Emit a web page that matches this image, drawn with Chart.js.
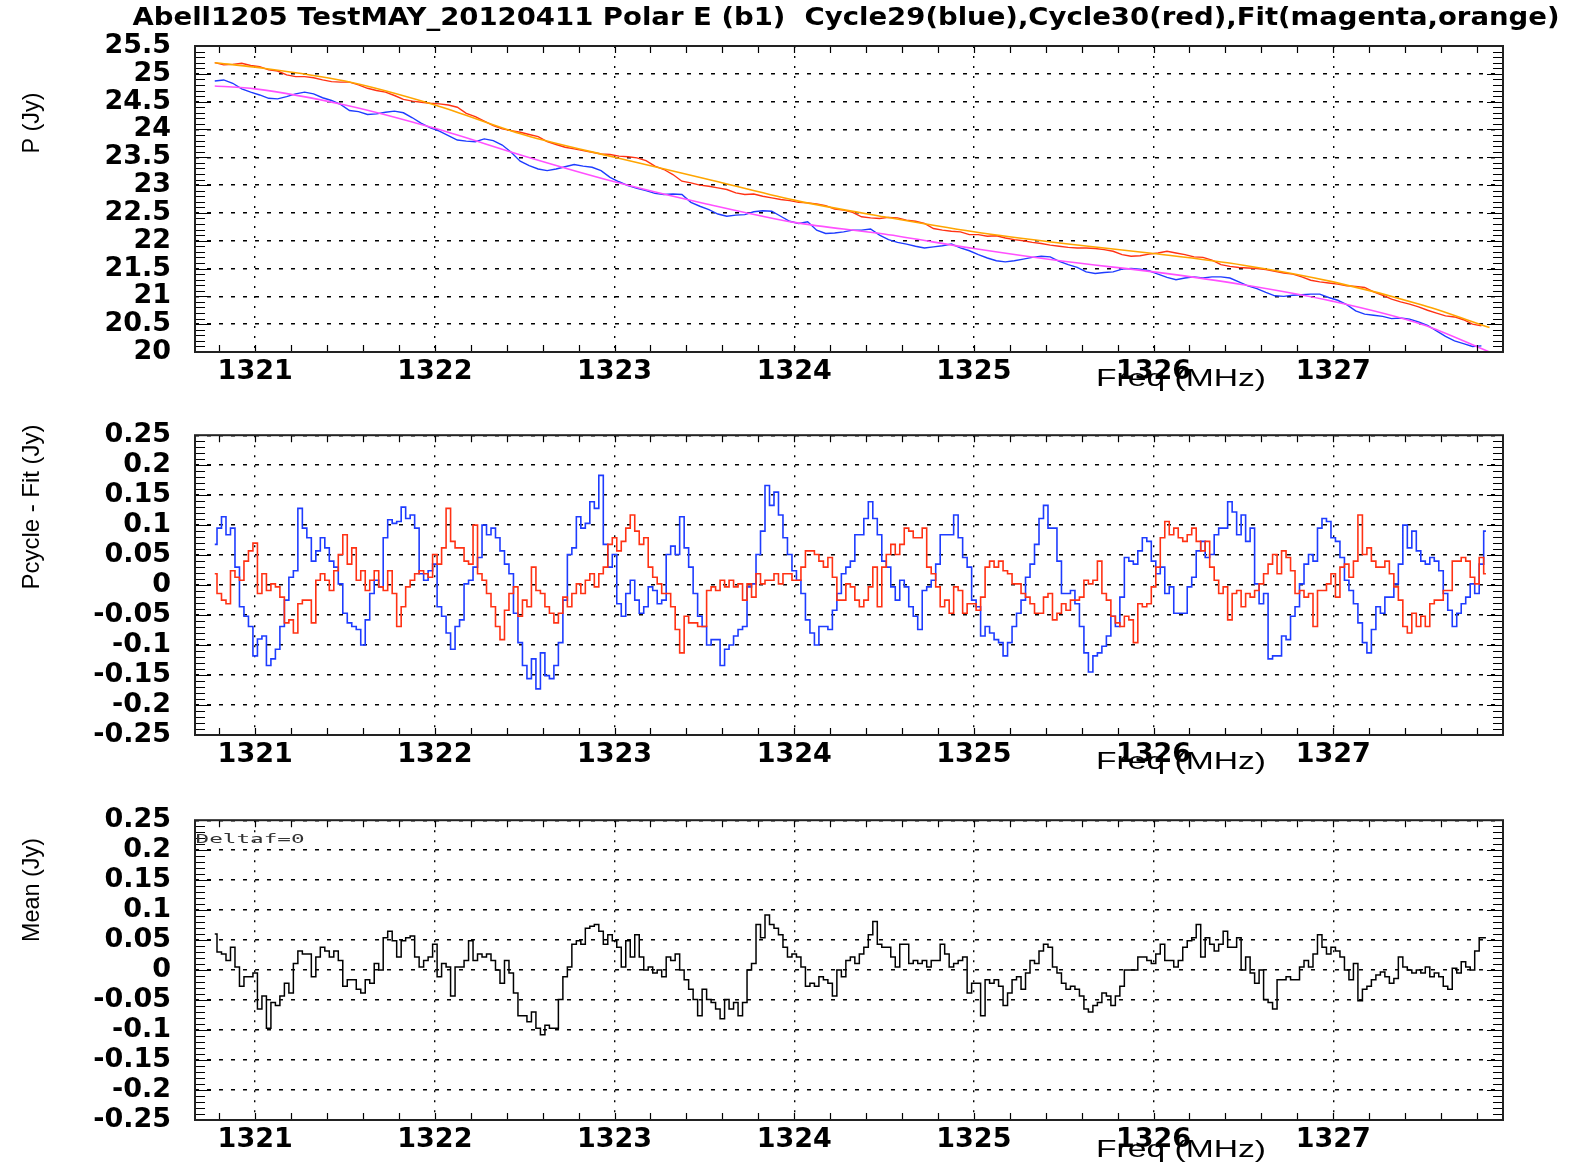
<!DOCTYPE html>
<html>
<head>
<meta charset="utf-8">
<title>Abell1205 TestMAY_20120411 Polar E (b1)</title>
<script src="https://cdn.jsdelivr.net/npm/chart.js@4.4.1/dist/chart.umd.min.js"></script>
<style>
  html, body { margin: 0; padding: 0; background: #fff; }
  #wrap { position: relative; width: 1570px; height: 1163px; background: #fff; overflow: hidden; }
  #wrap canvas { position: absolute; left: 0; }
</style>
</head>
<body>
<div id="wrap">
  <canvas id="cP" width="1570" height="395" style="top:0px"></canvas>
  <canvas id="cR" width="1570" height="385" style="top:395px"></canvas>
  <canvas id="cM" width="1570" height="383" style="top:780px"></canvas>
</div>
<script>
// ---- channel grids (MHz) ----
const chanStart = 1320.775;   // first channel of the residual spectra
const chanWidth = 0.025;      // residual channel spacing
const specStart = 1320.775;   // first channel of the polarised-flux spectra
const specWidth = 0.05;       // spectrum channel spacing

// ---- tick values ----
const freqTicks = [1321, 1322, 1323, 1324, 1325, 1326, 1327];
const pTicks = [20, 20.5, 21, 21.5, 22, 22.5, 23, 23.5, 24, 24.5, 25, 25.5];
const residTicks = [-0.25, -0.2, -0.15, -0.1, -0.05, 0, 0.05, 0.1, 0.15, 0.2, 0.25];

// ---- P (Jy): Cycle29 and Cycle30 spectra ----
const pCycle29 = [
  24.87, 24.89, 24.83, 24.73, 24.67, 24.62, 24.56, 24.55, 24.59, 24.64,
  24.67, 24.64, 24.57, 24.52, 24.45, 24.34, 24.32, 24.27, 24.28, 24.31,
  24.33, 24.30, 24.21, 24.11, 24.03, 23.97, 23.89, 23.81, 23.79, 23.78,
  23.83, 23.80, 23.72, 23.59, 23.43, 23.35, 23.29, 23.26, 23.29, 23.33,
  23.37, 23.34, 23.32, 23.26, 23.14, 23.06, 22.99, 22.94, 22.90, 22.85,
  22.83, 22.84, 22.83, 22.69, 22.62, 22.56, 22.48, 22.44, 22.46, 22.47,
  22.52, 22.54, 22.53, 22.44, 22.35, 22.31, 22.34, 22.19, 22.13, 22.14,
  22.16, 22.19, 22.19, 22.21, 22.10, 22.02, 21.97, 21.94, 21.90, 21.87,
  21.89, 21.91, 21.94, 21.87, 21.82, 21.75, 21.69, 21.64, 21.62, 21.64,
  21.67, 21.70, 21.72, 21.71, 21.63, 21.57, 21.52, 21.44, 21.41, 21.43,
  21.44, 21.49, 21.50, 21.49, 21.46, 21.40, 21.34, 21.30, 21.33, 21.35,
  21.33, 21.35, 21.35, 21.33, 21.26, 21.19, 21.14, 21.07, 21.01, 21.00,
  21.02, 21.03, 21.04, 21.04, 20.98, 20.93, 20.85, 20.74, 20.68, 20.66,
  20.64, 20.60, 20.61, 20.59, 20.54, 20.48, 20.38, 20.28, 20.20, 20.15,
  20.10, 20.11
];
const pCycle30 = [
  25.20, 25.16, 25.17, 25.19, 25.15, 25.13, 25.07, 25.05, 24.98, 24.95,
  24.95, 24.93, 24.89, 24.86, 24.85, 24.85, 24.80, 24.74, 24.70, 24.67,
  24.61, 24.54, 24.51, 24.49, 24.47, 24.46, 24.44, 24.40, 24.29, 24.23,
  24.15, 24.07, 24.01, 23.98, 23.95, 23.91, 23.87, 23.78, 23.73, 23.68,
  23.65, 23.62, 23.59, 23.56, 23.55, 23.52, 23.51, 23.49, 23.44, 23.34,
  23.28, 23.19, 23.07, 23.04, 23.00, 22.98, 22.95, 22.92, 22.86, 22.83,
  22.84, 22.80, 22.77, 22.74, 22.72, 22.69, 22.68, 22.66, 22.63, 22.57,
  22.55, 22.51, 22.43, 22.41, 22.40, 22.42, 22.41, 22.37, 22.35, 22.31,
  22.22, 22.19, 22.17, 22.16, 22.11, 22.11, 22.08, 22.09, 22.05, 22.02,
  22.00, 21.97, 21.95, 21.92, 21.90, 21.88, 21.87, 21.87, 21.86, 21.84,
  21.81, 21.75, 21.72, 21.73, 21.76, 21.78, 21.81, 21.78, 21.75, 21.71,
  21.70, 21.65, 21.57, 21.54, 21.52, 21.51, 21.50, 21.48, 21.45, 21.42,
  21.40, 21.35, 21.29, 21.26, 21.24, 21.22, 21.19, 21.18, 21.16, 21.08,
  21.02, 20.95, 20.90, 20.86, 20.81, 20.75, 20.70, 20.65, 20.63, 20.58,
  20.50, 20.47
];

// ---- fitted baselines ----
const fitFreq = [1320.775, 1321, 1321.5, 1322, 1322.5, 1323, 1323.5, 1324, 1324.5, 1325, 1325.5, 1326, 1326.5, 1327, 1327.5, 1327.87];
const fit29 = [24.78, 24.73, 24.44, 24.02, 23.52, 23.06, 22.67, 22.33, 22.12, 21.86, 21.63, 21.44, 21.21, 20.91, 20.49, 20.00];
const fit30 = [25.20, 25.12, 24.87, 24.44, 23.90, 23.50, 23.12, 22.73, 22.43, 22.16, 21.95, 21.77, 21.56, 21.26, 20.84, 20.44];

// ---- Pcycle - Fit (Jy) ----
const resid29 = [
   0.068, 0.095, 0.114, 0.084, 0.095, 0.030,-0.036,-0.052,-0.069,-0.118,
  -0.090,-0.085,-0.134,-0.123,-0.107,-0.069,-0.025, 0.013, 0.024, 0.128,
   0.095, 0.079, 0.040, 0.057, 0.079, 0.062, 0.040, 0.030, 0.002,-0.047,
  -0.063,-0.069,-0.074,-0.100,-0.058,-0.014, 0.008,-0.003, 0.079, 0.109,
   0.103, 0.106, 0.130, 0.111, 0.117, 0.095, 0.019, 0.008, 0.024, 0.035,
  -0.036,-0.052,-0.080,-0.107,-0.069,-0.058, 0.002, 0.008, 0.030, 0.046,
   0.100, 0.084, 0.095, 0.079, 0.057, 0.035, 0.019,-0.047,-0.096,-0.134,
  -0.156,-0.123,-0.173,-0.113,-0.151,-0.156,-0.134,-0.096,-0.025, 0.051,
   0.062, 0.114, 0.095, 0.103, 0.139, 0.128, 0.183, 0.068, 0.030, 0.051,
  -0.031,-0.052,-0.014, 0.008,-0.025,-0.047,-0.036,-0.003,-0.009,-0.031,
  -0.025, 0.051, 0.065, 0.051, 0.114, 0.062, 0.030,-0.014,-0.052,-0.069,
  -0.100,-0.091,-0.091,-0.134,-0.107,-0.100,-0.085,-0.074,-0.069,-0.003,
   0.002, 0.051, 0.090, 0.166, 0.133, 0.155, 0.117, 0.079, 0.051, 0.024,
   0.008,-0.014,-0.058,-0.080,-0.100,-0.069,-0.069,-0.074,-0.042,-0.014,
   0.019, 0.030, 0.040, 0.084, 0.084, 0.111, 0.139, 0.111, 0.084, 0.040,
   0.030,-0.003,-0.025, 0.008,-0.003,-0.036,-0.052,-0.074,-0.009,-0.003,
   0.008, 0.035, 0.084, 0.084, 0.084, 0.117, 0.079, 0.046, 0.030,-0.025,
  -0.036,-0.085,-0.069,-0.080,-0.091,-0.096,-0.118,-0.096,-0.069,-0.047,
  -0.025, 0.013, 0.035, 0.068, 0.111, 0.133, 0.095, 0.095, 0.040,-0.014,
  -0.014,-0.009,-0.031,-0.069,-0.113,-0.145,-0.118,-0.113,-0.102,-0.085,
  -0.052,-0.069,-0.020, 0.046, 0.040, 0.035, 0.057, 0.079, 0.073, 0.040,
   0.019, 0.030,-0.014,-0.003,-0.047,-0.047,-0.047,-0.003, 0.013, 0.057,
   0.073, 0.046, 0.051, 0.084, 0.095, 0.095, 0.139, 0.122, 0.084, 0.117,
   0.073, 0.095, 0.002,-0.031,-0.014,-0.123,-0.118,-0.118,-0.085,-0.091,
  -0.052,-0.036, 0.002, 0.035, 0.051, 0.040, 0.095, 0.111, 0.106, 0.079,
   0.073, 0.046, 0.008,-0.009,-0.031,-0.063,-0.096,-0.113,-0.074,-0.036,
  -0.047,-0.020,-0.020, 0.002, 0.035, 0.100, 0.062, 0.090, 0.057, 0.040,
   0.035, 0.046, 0.040, 0.024,-0.014,-0.042,-0.069,-0.047,-0.031,-0.020,
   0.002,-0.014, 0.035, 0.090
];
const resid30 = [
   0.019,-0.014,-0.025,-0.031, 0.024, 0.013, 0.008, 0.040, 0.057, 0.070,
  -0.014, 0.019,-0.009, 0.002,-0.003,-0.020,-0.063,-0.058,-0.080,-0.031,
  -0.025,-0.025,-0.063, 0.008, 0.019, 0.008,-0.009, 0.024, 0.051, 0.084,
   0.035, 0.062, 0.008, 0.024,-0.009, 0.008, 0.024,-0.003,-0.009, 0.024,
  -0.014,-0.069,-0.036,-0.003, 0.008, 0.019, 0.024, 0.019, 0.013, 0.051,
   0.035, 0.062, 0.128, 0.073, 0.062, 0.062, 0.040, 0.035, 0.100, 0.019,
   0.008,-0.014,-0.036,-0.069,-0.091,-0.042,-0.014,-0.003,-0.052,-0.025,
  -0.036, 0.030,-0.009,-0.014,-0.036,-0.047,-0.063,-0.047,-0.020,-0.036,
  -0.014, 0.002,-0.014, 0.008, 0.019,-0.003, 0.019, 0.030, 0.068, 0.079,
   0.057, 0.073, 0.095, 0.117, 0.090, 0.068, 0.079, 0.030, 0.013, 0.002,
  -0.014,-0.014,-0.036,-0.074,-0.113,-0.052,-0.063,-0.063,-0.069,-0.069,
  -0.009,-0.003,-0.009, 0.008,-0.003, 0.008,-0.003, 0.002,-0.025, 0.002,
  -0.020, 0.019, 0.002, 0.008, 0.008, 0.019, 0.002, 0.019, 0.019, 0.008,
   0.008, 0.030, 0.057, 0.057, 0.051, 0.040, 0.030, 0.046, 0.013,-0.025,
  -0.025, 0.002,-0.003,-0.025,-0.036,-0.025,-0.003, 0.030,-0.036, 0.030,
   0.051, 0.068, 0.051, 0.068, 0.095, 0.090, 0.079, 0.079, 0.095, 0.030,
   0.019,-0.003,-0.036,-0.025,-0.047,-0.003,-0.009,-0.047,-0.031,-0.031,
  -0.042,-0.020, 0.030, 0.040, 0.030, 0.040, 0.024, 0.019, 0.002, 0.002,
  -0.014,-0.020,-0.031,-0.047,-0.047,-0.020,-0.014,-0.058,-0.047,-0.031,
  -0.042,-0.025,-0.025,-0.020, 0.008, 0.002, 0.008, 0.040,-0.014,-0.025,
  -0.052,-0.063,-0.069,-0.052,-0.058,-0.096,-0.031,-0.036,-0.031,-0.003,
   0.030, 0.079, 0.106, 0.084, 0.095, 0.079, 0.073, 0.084, 0.095, 0.073,
   0.057, 0.073, 0.030, 0.008,-0.014,-0.003,-0.058,-0.014,-0.009,-0.036,
  -0.014,-0.020,-0.009, 0.002, 0.019, 0.035, 0.051, 0.019, 0.057, 0.046,
   0.024,-0.014,-0.009,-0.020,-0.014,-0.069,-0.009,-0.009, 0.002, 0.019,
  -0.020, 0.030, 0.035, 0.013, 0.040, 0.117, 0.051, 0.062, 0.040, 0.030,
   0.030, 0.040, 0.019,-0.003,-0.025,-0.069,-0.080,-0.047,-0.069,-0.052,
  -0.069,-0.031,-0.025,-0.025,-0.009,-0.009, 0.040, 0.040, 0.046, 0.040,
   0.013, 0.002, 0.046, 0.019
];

// ---- Mean (Jy) ----
const meanResid = [
   0.060, 0.030, 0.027, 0.016, 0.038, 0.005,-0.027,-0.011,-0.011,-0.005,
  -0.065,-0.043,-0.097,-0.054,-0.059,-0.043,-0.022,-0.038, 0.011, 0.032,
   0.027, 0.027,-0.011, 0.022, 0.038, 0.032, 0.022, 0.032, 0.016,-0.027,
  -0.016,-0.016,-0.032,-0.038,-0.016,-0.022, 0.011, 0.000, 0.054, 0.065,
   0.049, 0.022, 0.049, 0.054, 0.057, 0.022, 0.005, 0.016, 0.022, 0.043,
  -0.011, 0.011, 0.005,-0.043, 0.005, 0.005, 0.016, 0.049, 0.016, 0.027,
   0.022, 0.027, 0.016, 0.000,-0.022, 0.016,-0.005,-0.038,-0.076,-0.076,
  -0.086,-0.070,-0.097,-0.108,-0.092,-0.097,-0.097,-0.049,-0.011, 0.005,
   0.043, 0.049, 0.043, 0.070, 0.073, 0.076, 0.065, 0.043, 0.059, 0.049,
   0.038, 0.005, 0.049, 0.022, 0.059, 0.022, 0.000, 0.005,-0.005, 0.000,
  -0.011, 0.022, 0.016, 0.027, 0.000,-0.016,-0.032,-0.049,-0.076,-0.032,
  -0.049,-0.054,-0.065,-0.081,-0.049,-0.065,-0.054,-0.076,-0.054, 0.000,
   0.011, 0.076, 0.054, 0.092, 0.076, 0.070, 0.059, 0.038, 0.022, 0.027,
   0.022, 0.005,-0.027,-0.022,-0.027,-0.011,-0.016,-0.022,-0.043, 0.000,
  -0.011, 0.016, 0.022, 0.011, 0.027, 0.038, 0.059, 0.081, 0.043, 0.038,
   0.038, 0.022, 0.005, 0.043, 0.043, 0.011, 0.016, 0.011, 0.016, 0.005,
   0.016, 0.016, 0.043, 0.027, 0.005, 0.011, 0.016, 0.022,-0.038,-0.022,
  -0.022,-0.076,-0.016,-0.022,-0.016,-0.027,-0.059,-0.038,-0.016,-0.011,
  -0.032,-0.005, 0.016, 0.011, 0.032, 0.043, 0.038, 0.005,-0.005,-0.022,
  -0.032,-0.027,-0.032,-0.043,-0.065,-0.070,-0.059,-0.054,-0.038,-0.043,
  -0.059,-0.043,-0.027, 0.000, 0.000, 0.000, 0.022, 0.022, 0.016, 0.011,
   0.027, 0.043, 0.016, 0.016, 0.005, 0.016, 0.038, 0.049, 0.054, 0.076,
   0.022, 0.054, 0.043, 0.032, 0.043, 0.065, 0.038, 0.038, 0.054, 0.000,
   0.022,-0.005,-0.022, 0.000,-0.049,-0.054,-0.065,-0.016,-0.016,-0.011,
  -0.016,-0.016, 0.005, 0.016, 0.005, 0.027, 0.059, 0.038, 0.027, 0.038,
   0.032, 0.022, 0.000,-0.016, 0.011,-0.051,-0.032,-0.027,-0.016,-0.008,
  -0.003,-0.011,-0.022,-0.014, 0.022, 0.005, 0.000,-0.005, 0.000,-0.005,
   0.005,-0.011,-0.005,-0.011,-0.027,-0.032, 0.003,-0.005, 0.014, 0.005,
   0.000, 0.032, 0.054, 0.054
];

// ---- styling ----
const BLUE = '#1e3cff', RED = '#ff3214', MAGENTA = '#ff50ff', ORANGE = '#ffa500';
const TICK_FONT = { family: 'DejaVu Sans', size: 27, weight: 'bold' };
const X_MIN = 1320.665, X_MAX = 1327.945, X_MINOR = 0.2;
const TITLE_FONT = 'bold 24px "DejaVu Sans"';
const LABEL_FONT = '24px "Liberation Sans"';

const chanFreq = (start, width, n) => Array.from({ length: n }, (_, i) => +(start + i * width).toFixed(3));
const residFreq = chanFreq(chanStart, chanWidth, resid29.length);
const specFreq = chanFreq(specStart, specWidth, pCycle29.length);
const pts = (xs, ys) => ys.map((y, i) => ({ x: xs[i], y }));
const fmt = v => String(+(+v).toFixed(2));

// box, inward ticks and minor ticks drawn in the IDL manner
function makeAxesPlugin(yMajor, yMinorStep) {
  return {
    id: 'idlAxes',
    afterDatasetsDraw(chart) {
      const { ctx, chartArea: a } = chart;
      const xs = chart.scales.x, ys = chart.scales.y;
      ctx.save();
      ctx.strokeStyle = '#000';
      ctx.lineWidth = 1.2;
      ctx.beginPath();
      const n0 = Math.ceil(xs.min / X_MINOR - 1e-9), n1 = Math.floor(xs.max / X_MINOR + 1e-9);
      for (let n = n0; n <= n1; n++) {
        const px = Math.round(xs.getPixelForValue(n * X_MINOR)) + 0.5;
        ctx.moveTo(px, a.bottom); ctx.lineTo(px, a.bottom - 7);
        ctx.moveTo(px, a.top); ctx.lineTo(px, a.top + 7);
      }
      const m0 = Math.ceil(ys.min / yMinorStep - 1e-9), m1 = Math.floor(ys.max / yMinorStep + 1e-9);
      for (let m = m0; m <= m1; m++) {
        const py = Math.round(ys.getPixelForValue(m * yMinorStep)) + 0.5;
        ctx.moveTo(a.left, py); ctx.lineTo(a.left + 10, py);
        ctx.moveTo(a.right, py); ctx.lineTo(a.right - 10, py);
      }
      yMajor.forEach(v => {
        const py = Math.round(ys.getPixelForValue(v)) + 0.5;
        ctx.moveTo(a.left, py); ctx.lineTo(a.left + 16, py);
        ctx.moveTo(a.right, py); ctx.lineTo(a.right - 16, py);
      });
      ctx.stroke();
      ctx.lineWidth = 2;
      ctx.strokeStyle = '#222';
      ctx.strokeRect(a.left, a.top, a.right - a.left, a.bottom - a.top);
      ctx.restore();
    }
  };
}

// free-standing labels (title, axis names, annotation), stretched to a set width
function makeTextPlugin(items) {
  return {
    id: 'panelText',
    afterDraw(chart) {
      const ctx = chart.ctx;
      items.forEach(t => {
        ctx.save();
        ctx.font = t.font;
        ctx.fillStyle = t.color || '#000';
        ctx.textAlign = 'center';
        ctx.textBaseline = 'middle';
        ctx.translate(t.x, t.y);
        if (t.rotate) ctx.rotate(t.rotate);
        const w = ctx.measureText(t.text).width;
        if (t.width) ctx.scale(t.width / w, 1);
        ctx.fillText(t.text, 0, 0);
        ctx.restore();
      });
    }
  };
}

function panel(id, cfg) {
  return new Chart(document.getElementById(id), {
    type: 'line',
    data: { datasets: cfg.datasets },
    options: {
      responsive: false,
      animation: false,
      devicePixelRatio: 1,
      events: [],
      layout: { padding: { top: cfg.padTop, right: 67, left: 0, bottom: 0 } },
      plugins: { legend: { display: false }, tooltip: { enabled: false }, title: { display: false } },
      elements: { point: { radius: 0 }, line: { tension: 0 } },
      scales: {
        x: {
          type: 'linear', min: X_MIN, max: X_MAX,
          afterBuildTicks: s => { s.ticks = freqTicks.map(v => ({ value: v })); },
          afterFit: s => { s.height = cfg.xHeight; },
          ticks: { font: TICK_FONT, color: '#000', padding: 4, autoSkip: false, maxRotation: 0, callback: v => String(v) },
          grid: { color: '#000', lineWidth: 1.4, drawTicks: false },
          border: { display: false, dash: [2, 8] }
        },
        y: {
          type: 'linear', min: cfg.yMin, max: cfg.yMax,
          afterBuildTicks: s => { s.ticks = cfg.yTicks.map(v => ({ value: v })); },
          afterFit: s => { s.width = 195; },
          ticks: { font: TICK_FONT, color: '#000', padding: 24, autoSkip: false, callback: fmt },
          grid: { color: '#000', lineWidth: 1.4, drawTicks: false },
          border: { display: false, dash: [4, 8] }
        }
      }
    },
    plugins: [makeAxesPlugin(cfg.yTicks, cfg.yMinor), makeTextPlugin(cfg.texts)]
  });
}

// Panel 1: polarised flux with the two fits
panel('cP', {
  padTop: 46, xHeight: 43, yMin: 20, yMax: 25.5, yTicks: pTicks, yMinor: 0.1,
  datasets: [
    { data: pts(fitFreq, fit29), borderColor: MAGENTA, borderWidth: 1.6, cubicInterpolationMode: 'monotone' },
    { data: pts(fitFreq, fit30), borderColor: ORANGE, borderWidth: 1.6, cubicInterpolationMode: 'monotone' },
    { data: pts(specFreq, pCycle30), borderColor: RED, borderWidth: 1.4 },
    { data: pts(specFreq, pCycle29), borderColor: BLUE, borderWidth: 1.4 }
  ],
  texts: [
    { text: 'Abell1205 TestMAY_20120411 Polar E (b1)  Cycle29(blue),Cycle30(red),Fit(magenta,orange)', x: 846, y: 19, width: 1427, font: TITLE_FONT },
    { text: 'P (Jy)', x: 32, y: 123, rotate: -Math.PI / 2, width: 61, font: LABEL_FONT },
    { text: 'Freq (MHz)', x: 1181, y: 379, width: 170, font: LABEL_FONT }
  ]
});

// Panel 2: residuals after subtracting the fits
panel('cR', {
  padTop: 36, xHeight: 45, yMin: -0.25, yMax: 0.25, yTicks: residTicks, yMinor: 0.01,
  datasets: [
    { data: pts(residFreq, resid30), borderColor: RED, borderWidth: 1.6, stepped: 'middle' },
    { data: pts(residFreq, resid29), borderColor: BLUE, borderWidth: 1.6, stepped: 'middle' }
  ],
  texts: [
    { text: 'Pcycle - Fit (Jy)', x: 32, y: 112, rotate: -Math.PI / 2, width: 165, font: LABEL_FONT },
    { text: 'Freq (MHz)', x: 1181, y: 367, width: 170, font: LABEL_FONT }
  ]
});

// Panel 3: mean of the two residual spectra
panel('cM', {
  padTop: 33, xHeight: 43, yMin: -0.25, yMax: 0.25, yTicks: residTicks, yMinor: 0.01,
  datasets: [
    { data: pts(residFreq, meanResid), borderColor: '#000', borderWidth: 1.5, stepped: 'middle' }
  ],
  texts: [
    { text: 'Mean (Jy)', x: 32, y: 110, rotate: -Math.PI / 2, width: 104, font: LABEL_FONT },
    { text: 'Freq (MHz)', x: 1181, y: 370, width: 170, font: LABEL_FONT },
    { text: 'Deltaf=0', x: 250, y: 60, width: 109, font: '13px "DejaVu Sans Mono"', color: '#333' }
  ]
});
</script>
</body>
</html>
